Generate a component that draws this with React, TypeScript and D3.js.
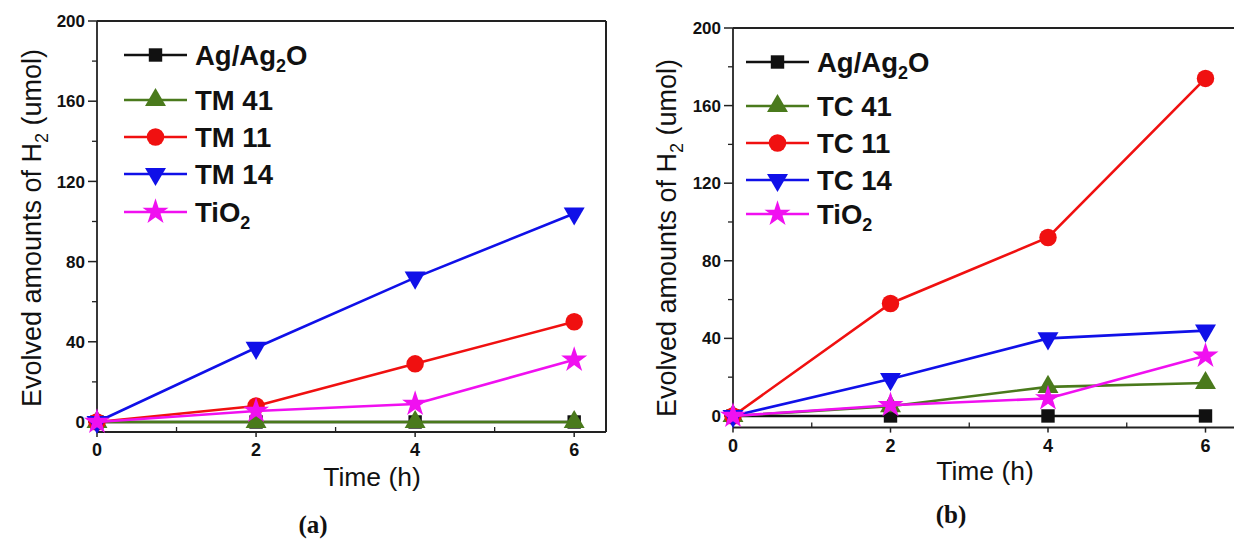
import React from 'react';
import * as d3 from 'd3';

// ---------- data ----------
const hours = [0, 2, 4, 6];
const xMajorTicks = [0, 2, 4, 6];
const xMinorTicks = [1, 3, 5];
const yMajorTicks = [0, 40, 80, 120, 160, 200];
const yMinorTicks = [20, 60, 100, 140, 180];

// panel (a)
const agA = [0, 0, 0, 0];
const tm41 = [0, 0, 0, 0];
const tm11 = [0, 8, 29, 50];
const tm14 = [0, 37, 72, 104];
const tio2A = [0, 5.5, 9, 31];

// panel (b)
const agB = [0, 0, 0, 0];
const tc41 = [0, 5, 15, 17];
const tc11 = [0, 58, 92, 174];
const tc14 = [0, 19, 40, 44];
const tio2B = [0, 5.5, 9, 31];

const namesA = [['Ag/Ag', '2', 'O'], ['TM 41', '', ''], ['TM 11', '', ''], ['TM 14', '', ''], ['TiO', '2', '']];
const namesB = [['Ag/Ag', '2', 'O'], ['TC 41', '', ''], ['TC 11', '', ''], ['TC 14', '', ''], ['TiO', '2', '']];

const colors = ['#111111', '#4a7a1c', '#f01010', '#1010e8', '#f010f0'];
const shapes = ['square', 'triangle', 'circle', 'down', 'star'];

const FONT = '"Liberation Sans", Arial, sans-serif';

function symbolPath(shape: string): { d: string; rot: number } {
  switch (shape) {
    case 'square':
      return { d: d3.symbol(d3.symbolSquare, 180)()!, rot: 0 };
    case 'triangle':
      return { d: d3.symbol(d3.symbolTriangle, 190)()!, rot: 0 };
    case 'circle':
      return { d: d3.symbol(d3.symbolCircle, 240)()!, rot: 0 };
    case 'down':
      return { d: d3.symbol(d3.symbolTriangle, 190)()!, rot: 180 };
    default:
      return { d: d3.symbol(d3.symbolStar, 210)()!, rot: 0 };
  }
}

type PanelProps = {
  x0: number; x1: number; yTop: number; yBottom: number; yMin: number;
  series: number[][]; names: string[][];
  legendX: number; legendYs: number[];
  yLabelX: number; yLabelY: number;
  xTitleX: number; xTitleY: number; tagX: number; tagY: number; tag: string;
};

function Panel(p: PanelProps) {
  const x = d3.scaleLinear().domain([0, 6.4]).range([p.x0, p.x1]);
  const y = d3.scaleLinear().domain([p.yMin, 200]).range([p.yBottom, p.yTop]);
  const line = d3.line<number>().x((_, i) => x(hours[i])).y((v) => y(v));
  const axisColor = '#222';
  return (
    <g>
      {/* box */}
      <line x1={p.x0} x2={p.x0} y1={p.yTop} y2={p.yBottom} stroke={axisColor} strokeWidth={1.8} />
      <line x1={p.x0} x2={p.x1} y1={p.yTop} y2={p.yTop} stroke={axisColor} strokeWidth={2} />
      <line x1={p.x0} x2={p.x1} y1={p.yBottom} y2={p.yBottom} stroke={axisColor} strokeWidth={2} />
      <line x1={p.x1} x2={p.x1} y1={p.yTop} y2={p.yBottom} stroke={axisColor} strokeWidth={2} />
      {/* y ticks */}
      {yMajorTicks.map((t) => (
        <g key={'ym' + t}>
          <line x1={p.x0 - 9} x2={p.x0} y1={y(t)} y2={y(t)} stroke={axisColor} strokeWidth={1.5} />
          <text x={p.x0 - 12} y={y(t)} dy="0.36em" textAnchor="end" fontFamily={FONT} fontWeight="bold" fontSize={17} fill="#111">{t}</text>
        </g>
      ))}
      {yMinorTicks.map((t) => (
        <line key={'yn' + t} x1={p.x0 - 5} x2={p.x0} y1={y(t)} y2={y(t)} stroke={axisColor} strokeWidth={1.3} />
      ))}
      {/* x ticks */}
      {xMajorTicks.map((t) => (
        <g key={'xm' + t}>
          <line x1={x(t)} x2={x(t)} y1={p.yBottom} y2={p.yBottom + 5} stroke={axisColor} strokeWidth={1.5} />
          <text x={x(t)} y={p.yBottom + 24} textAnchor="middle" fontFamily={FONT} fontWeight="bold" fontSize={18} fill="#111">{t}</text>
        </g>
      ))}
      {xMinorTicks.map((t) => (
        <line key={'xn' + t} x1={x(t)} x2={x(t)} y1={p.yBottom} y2={p.yBottom - 5} stroke={axisColor} strokeWidth={1.3} />
      ))}
      {/* series */}
      {p.series.map((vals, si) => {
        const sp = symbolPath(shapes[si]);
        return (
          <g key={'s' + si}>
            <path d={line(vals)!} fill="none" stroke={colors[si]} strokeWidth={2.6} />
            {vals.map((v, i) => (
              <path key={i} d={sp.d} fill={colors[si]} transform={`translate(${x(hours[i])},${y(v)}) rotate(${sp.rot})`} />
            ))}
          </g>
        );
      })}
      {/* legend */}
      {p.names.map((nm, si) => {
        const sp = symbolPath(shapes[si]);
        const ly = p.legendYs[si];
        return (
          <g key={'l' + si}>
            <line x1={p.legendX} x2={p.legendX + 63} y1={ly} y2={ly} stroke={colors[si]} strokeWidth={2.6} />
            <path d={sp.d} fill={colors[si]} transform={`translate(${p.legendX + 31.5},${ly}) rotate(${sp.rot})`} />
            <text x={p.legendX + 71} y={ly + 10} fontFamily={FONT} fontWeight="bold" fontSize={27.5} fill="#111">
              {nm[0]}
              {nm[1] ? <tspan fontSize={18} dy={7}>{nm[1]}</tspan> : null}
              {nm[2] ? <tspan dy={-7}>{nm[2]}</tspan> : null}
            </text>
          </g>
        );
      })}
      {/* axis titles */}
      <text x={p.xTitleX} y={p.xTitleY} textAnchor="middle" fontFamily={FONT} fontSize={26.5} fill="#111">Time (h)</text>
      <text transform={`translate(${p.yLabelX},${p.yLabelY}) rotate(-90)`} textAnchor="middle" fontFamily={FONT} fontSize={27} fill="#111">
        Evolved amounts of H<tspan fontSize={18} dy={7}>2</tspan><tspan dy={-7}> (umol)</tspan>
      </text>
      <text x={p.tagX} y={p.tagY} textAnchor="middle" fontFamily='"Liberation Serif", "DejaVu Serif", serif' fontWeight="bold" fontSize={25} fill="#111">{p.tag}</text>
    </g>
  );
}

export default function App() {
  return (
    <svg width={1234} height={548} style={{ position: 'absolute', left: 0, top: 0, background: '#fff' }}>
      <rect width={1234} height={548} fill="#fff" />
      <Panel x0={97} x1={606} yTop={21} yBottom={432} yMin={-5}
        series={[agA, tm41, tm11, tm14, tio2A]} names={namesA}
        legendX={124} legendYs={[55, 100, 137, 174, 212]}
        yLabelX={41} yLabelY={228} xTitleX={372} xTitleY={486} tagX={313} tagY={533} tag="(a)" />
      <Panel x0={733} x1={1237} yTop={28} yBottom={427.6} yMin={-6}
        series={[agB, tc41, tc11, tc14, tio2B]} names={namesB}
        legendX={746} legendYs={[62, 106, 143, 180, 214]}
        yLabelX={676} yLabelY={238} xTitleX={985} xTitleY={480} tagX={951} tagY={523} tag="(b)" />
    </svg>
  );
}
